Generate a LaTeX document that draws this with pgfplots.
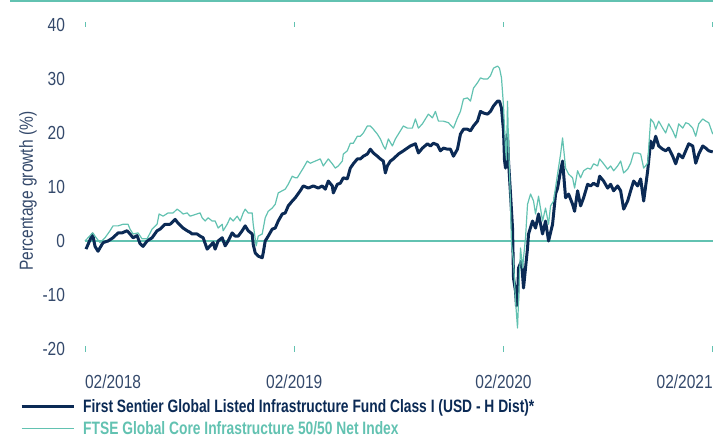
\documentclass[border=0pt]{standalone}
\usepackage{pgfplots}
\usepackage{pgfplotstable}
\pgfplotsset{compat=1.18}
\usepackage{fontspec}
\setmainfont{Liberation Sans}[FakeStretch=0.82]
\newfontfamily\legfont{Liberation Sans}[FakeStretch=0.77]
\definecolor{navy}{HTML}{0B2A55}
\definecolor{teal2}{HTML}{62C2B1}
\definecolor{txt}{HTML}{34496B}

% x = weeks since 02/2018, y = percentage growth
\pgfplotstableread{
w y
0.25 -1.5
1.9 1.3
2.5 -1
3.25 -1.9
4.5 -0.3
5.75 0
7 0.6
8.25 1.5
9.25 1.5
10.5 1.9
11.25 1.3
12 0.6
13 1.0
13.75 -0.5
14.5 -1
15.5 0
16.75 0.6
18 1.9
18.75 2.2
20 3.1
21.25 3.1
22.5 4
23.25 3.3
24.5 2.4
25.5 1.9
26.25 1.6
26.75 1.3
28 1.3
28.75 0.9
29.5 0.6
30.5 -1.5
31.25 -0.9
32 -0.3
32.5 -1.5
33.25 0
34.25 0.6
35 -0.9
35.75 0
36.75 1.5
37.5 0.9
38.25 0.9
39.25 1.9
40 2.8
40.75 1.9
41.75 1.3
42 -0.6
42.5 -2.2
43.25 -2.8
44.25 -3.1
44.5 -2.2
45 0
45.75 0.9
46.75 2.2
47.5 2.4
48.25 3.7
49.25 5
50 5.2
50.75 6.5
51.75 7.4
52.5 8
53.75 9.3
54.5 10.2
55.75 9.8
57 10.2
58.25 9.8
59.25 10.2
60 9.6
60.75 11.1
61.75 10.2
62 8.9
63 10.5
63.75 10.7
64.5 11.7
65.5 11.5
66.25 13.5
67 14.3
68 15.2
68.75 15.2
69.5 15.7
70.5 16.1
71.25 17
72 16.3
73 15.7
73.75 15.2
74.5 14.8
75 12.6
75.5 13.9
76.25 14.8
77 15.2
78.25 16.1
79.5 16.7
81.25 17.6
82.5 18
83.25 16.3
84.25 17.2
85.5 18
86.25 17.6
87 18.1
88 17.8
88.75 16.7
89.5 17.2
90.5 17
91.25 17
92 15.7
93 17
93.75 19.8
94.5 20.7
95.5 20.7
96.25 20.4
97 21.3
98 22.2
98.75 24
99.5 23.7
100.5 23.5
101.25 24
102 25
103 25.9
103.5 25.9
104 24.6
104.5 20.4
104.75 15
105 13.5
105.25 17
105.5 19.8
105.75 14.8
106.25 8.7
106.75 2.4
107 -6.9
107.5 -9.3
107.75 -12
108 -11.1
108.25 -5
109 -3.7
109.5 -8.7
110 -5
110.5 -1.3
110.75 1.3
111.75 3.7
112.5 2.4
113.25 5
114.25 1.3
115 3.7
115.75 0
116.75 3.1
117.5 8.7
118 9.8
118.75 13
119.25 14.8
120 8
120.75 8.7
121.75 6.8
122.25 5.5
123 9.3
123.75 6.5
124.5 8
125.5 10.5
126.25 10.2
127 10.7
128 10.2
128.5 12
129.5 11.1
130.5 9.8
131.25 10.5
132 9.3
133 10.2
133.75 9.3
134.5 5.9
135.5 7.4
136.25 9.3
137 11.1
138 10.2
138.75 11.5
139.5 7.4
140.5 13
141.25 18.5
141.75 17.2
142.5 19.4
143.25 17.6
144.25 17
145 16.7
145.75 17.2
146.75 15.7
147.5 14.3
148.25 16.1
149.25 15.4
150 16.7
150.75 18
151.75 17.6
152.5 14.4
153.25 16.1
154.25 17.6
155 17.2
155.75 16.7
156.75 16.5
}\fund

\pgfplotstableread{
w y
0 0
1.9 1.5
3 0.4
3.75 -0.3
5 0.6
6.25 1.9
7 2.8
8.25 2.8
9.5 3.1
10.75 3.1
11.25 2.2
12 1.3
13.25 1.5
14.25 0.4
15.5 0.4
16.75 2.2
18 3.1
18.5 5
19.5 4.6
20.75 5.2
22 5.2
23 5.9
23.75 5.5
24.5 5
25.5 5.2
26.25 4.6
27.5 4.9
28.75 5.2
29.25 4.3
30 3.7
30.75 4.3
31.75 3.7
32.5 3.7
33.25 2.4
34.25 3.1
34.5 1.9
35.5 3.1
36.25 4.3
37 3.7
38 4.6
38.75 3.7
39.5 5.2
40 5.9
40.75 5.2
41.75 5.2
42 3.1
42.75 -0.9
43.25 0.9
44.25 1.3
45 4.3
45.75 5.5
46.75 6.1
47.5 6.8
48.25 8.9
49.25 9.3
50 9.6
50.75 10.5
51.75 12
52.5 11.7
53 11.7
54.5 13.5
55.5 14.8
56.25 14.4
57.5 14.8
58.75 15.2
59.5 13.9
60.75 15.2
61.75 14.3
62.5 13.5
63.25 13.9
64.25 14.8
64.5 16.1
65.5 16.7
66.25 18.1
67 18.1
68 19.4
68.75 19.4
69.5 20
70.5 21.3
71.25 21.3
72 20.7
73 19.8
73.75 18.9
74.5 17.6
75 17
75.75 18.9
76.75 17.6
77.5 18.9
78.75 20.4
79.5 21.3
80.5 20.9
81.75 20.9
82.5 22.6
83.25 20.9
84.25 21.7
85 22.6
85.75 23.5
86.75 22.8
87.5 24
88.25 22.2
89.5 22.2
90.75 21.9
92 20.9
93 22.8
93.75 24
94.5 26.3
95.5 26.5
96.25 25.9
97 28.3
98 29.3
98.75 30.2
99.5 30
100.5 30
101.25 30.6
102 32
103 32.4
103.5 32
104 30.2
104.5 25
105 17
105.25 15
105.5 25.9
105.75 18
106 13
106.5 -0.6
107 -3.7
107.5 -11.1
108 -16.1
108.75 -1.3
109.25 -5
110 0.6
110.5 6.8
111.25 8.7
112 7.4
112.5 5
113.25 8.3
114.25 3.7
115 6.1
115.75 3.1
116.25 6.5
117 7.4
118 12.4
118.75 16.1
119.25 19.1
120 13.5
120.75 12.4
121.75 11.7
122.25 9.8
123 13
123.75 11.7
124.5 13
125.5 13.5
126.25 13.3
127 14.3
128 13.9
128.5 15.2
129.5 14.3
130.5 13.3
131.25 13.9
132 13
133 13.9
133.75 14.8
134.5 12.6
135.5 13.3
136.25 14.4
137 16.3
138 16.3
138.75 16.1
139.5 13.5
140.5 14.4
141.25 22.6
142 21.9
142.5 20.7
143.25 22.2
144.25 20.9
145 20
145.75 21.7
146.75 20.4
147.5 19.1
148.25 21.7
149.25 20.9
150 21.9
150.75 21.7
151.75 20.9
152.5 19.4
153.25 21.7
154.25 22.6
155 22.2
155.75 21.9
156.75 19.8
}\index

\begin{document}
\begin{tikzpicture}
\path[use as bounding box] (0,0) rectangle (713bp,437bp);
\draw[teal2, line width=1.5bp] (10bp,436bp) -- (713bp,436bp);
\begin{axis}[
  at={(85bp,88bp)}, anchor=south west, scale only axis,
  width=627.75bp, height=324bp,
  xmin=0, xmax=156.75, ymin=-20, ymax=40,
  axis line style={draw=none},
  clip=false,
  ytick={-20,-10,0,10,20,30,40},
  yticklabels={-20,-10,0,10,20,30,40},
  ytick style={draw=none},
  xtick={0,52.25,104.5,156.75},
  xticklabels={\makebox[0pt][l]{02/2018},02/2019,02/2020,\makebox[0pt][r]{02/2021}},
  xtick style={draw=teal2, line width=1bp},
  major tick length=5bp, tick align=center,
  yticklabel style={font=\fontsize{19}{19}\selectfont, text=txt, xshift=-14bp},
  xticklabel style={font=\fontsize{19}{19}\selectfont, text=txt, yshift=-20bp},
  ylabel={Percentage growth (\%)},
  ylabel style={at={(axis description cs:-0.0908,0.4877)}, anchor=center, font=\fontsize{19}{19}\selectfont, text=txt},
  legend style={at={(axis description cs:0,0)}, anchor=north west, xshift=-65bp, yshift=-48bp,
    draw=none, fill=none, inner sep=0pt, row sep=3.5bp,
    font=\legfont\fontsize{18}{19}\selectfont},
  legend cell align=left,
  legend image code/.code={\draw[#1] (0bp,0bp) -- (52bp,0bp); \path (58bp,0bp);},
]
\addplot[teal2, line width=1.2bp, forget plot] coordinates {(0,0) (156.75,0)};
\addplot[navy, line width=3bp, line join=round] table[x=w, y=y] {\fund};
\addlegendentry{\textcolor{navy}{\bfseries First Sentier Global Listed Infrastructure Fund Class I (USD - H Dist)*}}
\addplot[teal2, line width=1.2bp, line join=round] table[x=w, y=y] {\index};
\addlegendentry{\textcolor{teal2}{\bfseries FTSE Global Core Infrastructure 50/50 Net Index}}
\end{axis}
\end{tikzpicture}
\end{document}
